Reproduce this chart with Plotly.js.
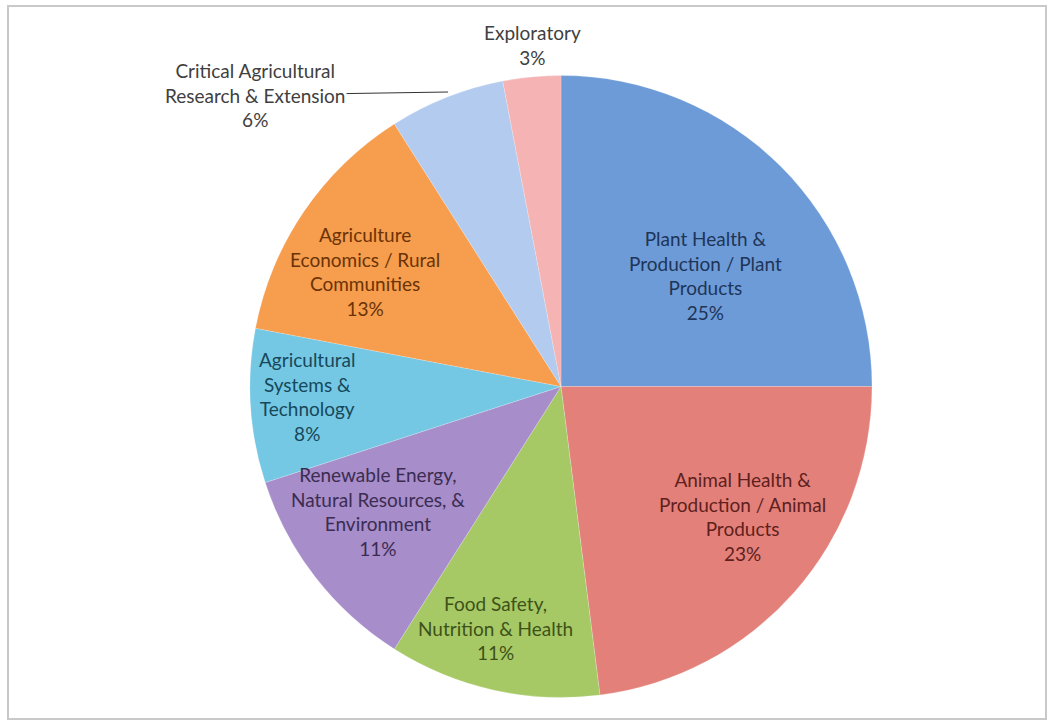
<!DOCTYPE html>
<html>
<head>
<meta charset="utf-8">
<script src="https://cdn.plot.ly/plotly-3.0.1.min.js"></script>
<style>
html,body{margin:0;padding:0;background:#fff;}
#chart{width:1048px;height:721px;}
</style>
</head>
<body>
<div id="chart"></div>
<script>
const categories = [
  "Plant Health & Production / Plant Products",
  "Animal Health & Production / Animal Products",
  "Food Safety, Nutrition & Health",
  "Renewable Energy, Natural Resources, & Environment",
  "Agricultural Systems & Technology",
  "Agriculture Economics / Rural Communities",
  "Critical Agricultural Research & Extension",
  "Exploratory"
];
const labelLines = [
  "Plant Health &<br>Production / Plant<br>Products",
  "Animal Health &<br>Production / Animal<br>Products",
  "Food Safety,<br>Nutrition & Health",
  "Renewable Energy,<br>Natural Resources, &<br>Environment",
  "Agricultural<br>Systems &<br>Technology",
  "Agriculture<br>Economics / Rural<br>Communities",
  "Critical Agricultural<br>Research & Extension",
  "Exploratory"
];
const values = [25, 23, 11, 11, 8, 13, 6, 3];
const sliceColors = ["#6d9bd8", "#e4807a", "#a6c966", "#a78dc9", "#74c8e4", "#f69d4e", "#b3cbee", "#f5b3b3"];
const textColors = ["#1e3557", "#5e1f1d", "#3e5218", "#3b2c52", "#17485a", "#6b3305", "#404040", "#404040"];
// label anchor points (pixel centre of each label block in the 1048x721 frame)
const labelX = [705, 742, 495, 378, 307, 365, 255, 532];
const labelY = [275, 516, 628, 511, 396, 271, 95, 45];

const texts = values.map((v, i) => labelLines[i] + "<br>" + v + "%");

const trace = {
  type: "pie",
  labels: categories,
  values: values,
  text: texts,
  textinfo: "none",
  sort: false,
  direction: "clockwise",
  rotation: 0,
  hoverinfo: "label+percent",
  marker: { colors: sliceColors, line: { color: "rgba(255,255,255,0.4)", width: 0.5 } },
  domain: { x: [250/1048, 872/1048], y: [23/721, 646/721] },
  showlegend: false
};

const W = 1048, H = 721;
const fontFam = "Lato, 'Open Sans', sans-serif";
const annotations = texts.map((t, i) => {
  const a = {
    xref: "paper", yref: "paper",
    x: labelX[i] / W, y: 1 - labelY[i] / H,
    xanchor: "center", yanchor: "middle",
    text: t, align: "center",
    font: { family: fontFam, size: 19, color: textColors[i] },
    showarrow: false
  };
  return a;
});
// leader line for the small "Critical Agricultural" slice
annotations[6] = Object.assign(annotations[6], {
  x: 448 / W, y: 1 - 92 / H,
  showarrow: true, arrowhead: 0, arrowwidth: 1, arrowcolor: "#333333",
  ax: labelX[6] - 448, ay: labelY[6] - 92, standoff: 0
});
delete annotations[6].xanchor; delete annotations[6].yanchor;

const layout = {
  width: W,
  height: H,
  margin: { l: 0, r: 0, t: 0, b: 0 },
  paper_bgcolor: "#ffffff",
  showlegend: false,
  shapes: [{
    type: "rect", xref: "paper", yref: "paper",
    x0: 8/W, x1: 1046/W, y0: 2/H, y1: 715/H,
    line: { color: "#c9c9c9", width: 2 }
  }],
  annotations: annotations
};

Plotly.newPlot("chart", [trace], layout, { displayModeBar: false, staticPlot: true });
</script>
</body>
</html>
